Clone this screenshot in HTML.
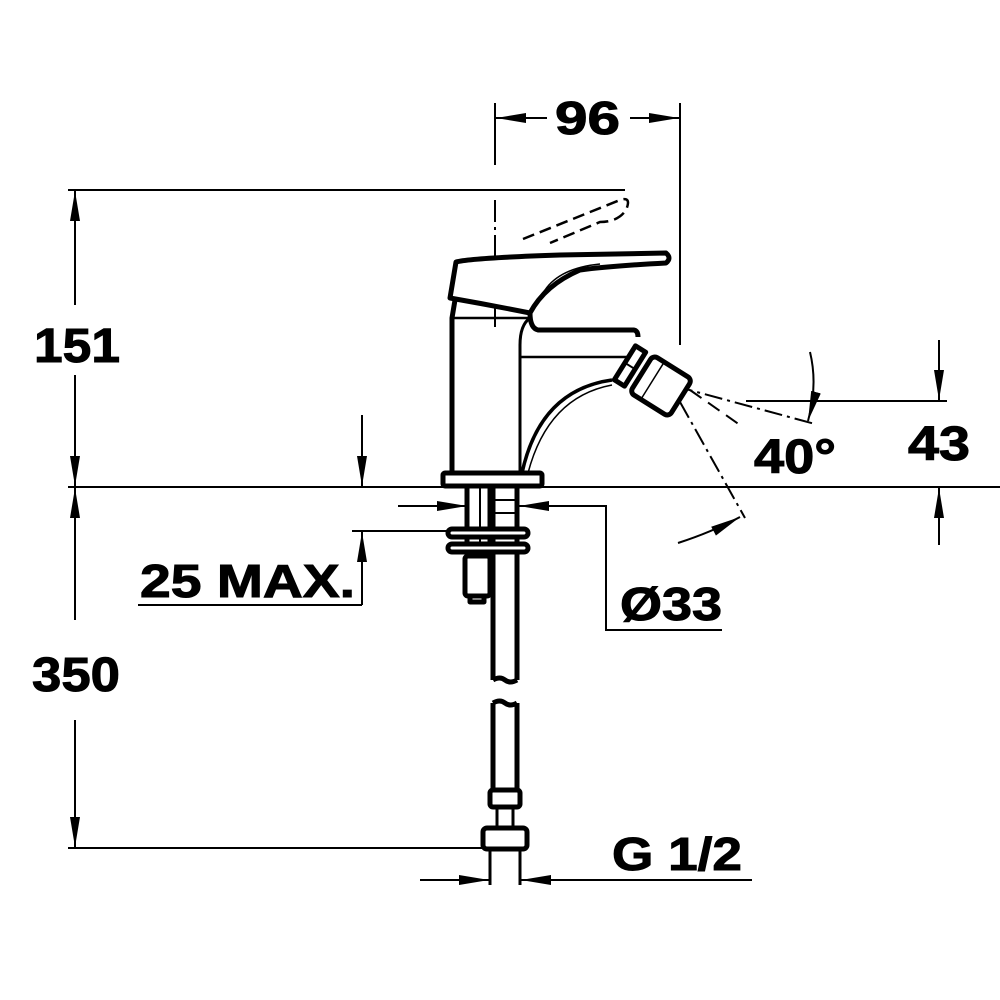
<!DOCTYPE html>
<html><head><style>html,body{margin:0;padding:0;background:#fff}svg{display:block}
text{font-family:"Liberation Sans",Arial,sans-serif;font-weight:bold;fill:#000;stroke:#000;stroke-width:1}</style></head>
<body>
<svg width="1000" height="1000" viewBox="0 0 1000 1000" xmlns="http://www.w3.org/2000/svg">
<defs>
<marker id="b" viewBox="0 0 30 10" refX="30" refY="5" markerWidth="30" markerHeight="10" markerUnits="userSpaceOnUse" orient="auto-start-reverse"><path d="M0,0 L30,5 L0,10 z" fill="#000"/></marker>
</defs>
<g stroke="#000" fill="none" stroke-width="2">
<line x1="495" y1="103" x2="495" y2="165"/>
<line x1="680" y1="103" x2="680" y2="345"/>
<line x1="547" y1="118" x2="496" y2="118" marker-end="url(#b)"/>
<line x1="630" y1="118" x2="679" y2="118" marker-end="url(#b)"/>
<line x1="68" y1="190" x2="625" y2="190"/>
<line x1="68" y1="487" x2="1000" y2="487"/>
<line x1="68" y1="848" x2="490" y2="848"/>
<line x1="75" y1="305" x2="75" y2="191" marker-end="url(#b)"/>
<line x1="75" y1="375" x2="75" y2="486" marker-end="url(#b)"/>
<line x1="75" y1="620" x2="75" y2="488" marker-end="url(#b)"/>
<line x1="75" y1="720" x2="75" y2="847" marker-end="url(#b)"/>
<line x1="495" y1="200" x2="495" y2="330" stroke-dasharray="22,5,3,5"/>
<path d="M523,239 L620,200 Q632,196 626,210 Q618,222 600,222 L550,243" stroke-dasharray="12,6" stroke-width="2.5"/>
<line x1="746" y1="401" x2="947" y2="401"/>
<line x1="939" y1="340" x2="939" y2="400" marker-end="url(#b)"/>
<line x1="939" y1="545" x2="939" y2="488" marker-end="url(#b)"/>
<line x1="645" y1="378" x2="815" y2="424" stroke-dasharray="18,5,3,5"/>
<line x1="680" y1="402" x2="745" y2="518" stroke-dasharray="18,5,3,5"/>
<line x1="690" y1="390" x2="740" y2="425" stroke-dasharray="14,8"/>
<path d="M810,352 Q818,385 808,421" marker-end="url(#b)"/>
<path d="M678,543 Q712,532 740,517" marker-end="url(#b)"/>
<line x1="352" y1="531" x2="460" y2="531"/>
<line x1="362" y1="415" x2="362" y2="486" marker-end="url(#b)"/>
<line x1="362" y1="605" x2="362" y2="532" marker-end="url(#b)"/>
<line x1="138" y1="605" x2="362" y2="605"/>
<line x1="398" y1="506" x2="467" y2="506" marker-end="url(#b)"/>
<polyline points="606,631 606,506 519,506" marker-end="url(#b)"/>
<line x1="606" y1="630" x2="722" y2="630"/>
<line x1="420" y1="880" x2="489" y2="880" marker-end="url(#b)"/>
<line x1="752" y1="880" x2="521" y2="880" marker-end="url(#b)"/>
</g>
<g stroke="#000" fill="none" stroke-width="5" stroke-linejoin="round">
<path d="M456,262 Q470,258 560,255 L666,253 Q672,258 666,263 Q610,266 580,270 Q545,285 530,313 Q490,305 450,298 Z" fill="#fff"/>
<path d="M600,264 Q560,268 545,290 Q532,305 530,313" stroke-width="1.5"/>
<path d="M455,300 L452,318 L452,475"/>
<path d="M452,318 L530,318" stroke-width="2.5"/>
<path d="M530,313 Q530,328 538,330 L634,330 Q638,331 638,337"/>
<path d="M530,318 Q520,325 520,345 L520,475" stroke-width="3"/>
<line x1="520" y1="357" x2="640" y2="357" stroke-width="2.5"/>
<path d="M612,380 Q540,390 522,473" stroke-width="3.5"/>
<path d="M612,385 Q548,397 528,473" stroke-width="1.5"/>
<rect x="443" y="473" width="99" height="13" rx="2" fill="#fff"/>
<g transform="translate(630,366) rotate(32)"><rect x="-6" y="-20" width="12" height="40" fill="#fff"/><line x1="-6" y1="0" x2="6" y2="0" stroke-width="2"/></g>
<g transform="translate(661,386) rotate(32)"><rect x="-23" y="-22" width="46" height="44" rx="5" fill="#fff"/><line x1="-10" y1="-22" x2="-10" y2="22" stroke-width="1.5"/></g>
<line x1="467" y1="487" x2="467" y2="555"/><line x1="480" y1="487" x2="480" y2="555" stroke-width="2"/>
<line x1="490" y1="487" x2="490" y2="555"/>
<rect x="465" y="556" width="25" height="40" rx="3" fill="#fff"/>
<rect x="470" y="596" width="14" height="6" fill="#fff"/>
<path d="M493,487 L493,680 M517,487 L517,680 M493,680 Q500,676 505,680 Q510,684 517,680"/>
<path d="M493,703 Q500,699 505,703 Q510,707 517,703 M493,703 L493,790 M517,703 L517,790"/>
<rect x="448" y="529" width="80" height="8" rx="4" fill="#fff"/>
<rect x="448" y="544" width="80" height="8" rx="4" fill="#fff"/>
<line x1="493" y1="500" x2="517" y2="500" stroke-width="2"/><line x1="493" y1="513" x2="517" y2="513" stroke-width="2"/>
<rect x="490" y="790" width="30" height="17" rx="3" fill="#fff"/>
<line x1="497" y1="807" x2="497" y2="828" stroke-width="3"/><line x1="513" y1="807" x2="513" y2="828" stroke-width="3"/>
<rect x="483" y="828" width="44" height="21" rx="4" fill="#fff"/>
<line x1="490" y1="849" x2="490" y2="885" stroke-width="3"/><line x1="520" y1="849" x2="520" y2="885" stroke-width="3"/>
</g>
<text x="555" y="134" font-size="46" textLength="65" lengthAdjust="spacingAndGlyphs">96</text>
<text x="34" y="362" font-size="48" textLength="86" lengthAdjust="spacingAndGlyphs">151</text>
<text x="32" y="691" font-size="48" textLength="88" lengthAdjust="spacingAndGlyphs">350</text>
<text x="140" y="597" font-size="46" textLength="215" lengthAdjust="spacingAndGlyphs">25 MAX.</text>
<text x="620" y="620" font-size="46" textLength="102" lengthAdjust="spacingAndGlyphs">Ø33</text>
<text x="612" y="870" font-size="46" textLength="130" lengthAdjust="spacingAndGlyphs">G 1/2</text>
<text x="754" y="473" font-size="48" textLength="82" lengthAdjust="spacingAndGlyphs">40°</text>
<text x="908" y="460" font-size="48" textLength="62" lengthAdjust="spacingAndGlyphs">43</text>
</svg>
</body></html>
